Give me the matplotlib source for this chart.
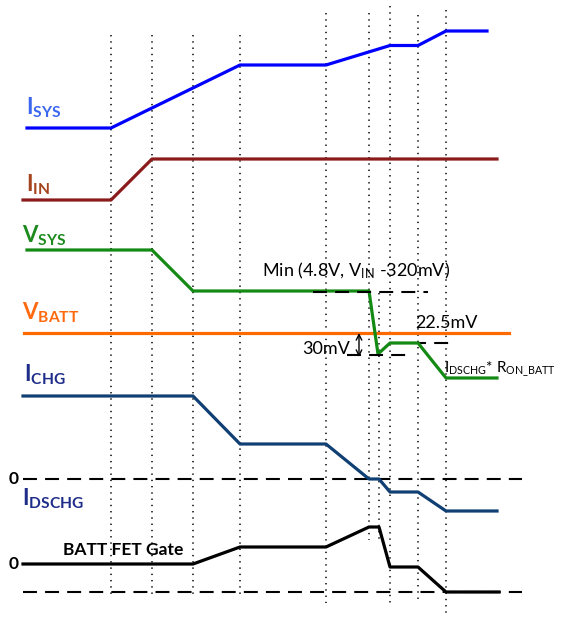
"""
Power-path timing diagram: ISYS / IIN / VSYS / VBATT / ICHG / IDSCHG / BATT FET gate.
Drawn on a pixel-like canvas (x = time, y = level on screen, downwards).
"""

import matplotlib

matplotlib.use("Agg")
import matplotlib.pyplot as plt

plt.rcParams.update({
    "font.family": ["Lato", "DejaVu Sans"],
    "mathtext.fontset": "custom",
    "mathtext.rm": "Lato",
    "mathtext.it": "Lato:italic",
    "mathtext.bf": "Lato:bold",
})

# event times (vertical dotted markers) and their extents
event_t = [111, 152, 193, 240, 326, 369, 379, 390, 418, 446]
event_top = [35, 35, 35, 35, 13, 13, 293, 6, 15, 10]
event_bottom = [597, 597, 597, 597, 603, 540, 540, 603, 600, 617]

# waveforms: breakpoints in time and level
isys_t = [27, 111, 240, 326, 390, 418, 446, 487]
isys_v = [128, 128, 65, 65, 45.5, 45.5, 31, 31]

iin_t = [23, 111, 152, 497]
iin_v = [200, 200, 159, 159]

vsys_t = [27, 152, 193, 369, 378, 390, 418, 446, 497]
vsys_v = [250, 250, 291, 291, 354, 343, 343, 378, 378]

vbatt_t = [24, 509]
vbatt_v = [333, 333]

ichg_t = [23, 193, 240, 326, 369, 379, 390, 418, 446, 497]
ichg_v = [396, 396, 444, 444, 479, 479, 492, 492, 511, 511]

gate_t = [23, 193, 240, 326, 369, 379, 390, 418, 446, 499]
gate_v = [564, 564, 547, 547, 527, 527, 567, 567, 592, 592]

zero_levels = [479, 592]
zero_span = [23, 522]

fig = plt.figure(figsize=(5.61, 6.18), dpi=100)
ax = fig.add_axes([0, 0, 1, 1])
ax.set_xlim(0, 561)
ax.set_ylim(618, 0)
ax.axis("off")

# dotted event markers
for t, top, bot in zip(event_t, event_top, event_bottom):
    ax.plot([t, t], [top, bot], color="black", lw=1.1,
            linestyle=(0, (0.9, 3.2)), zorder=1)

# zero reference lines
dash = (0, (6.7, 3.9))
for y in zero_levels:
    ax.plot(zero_span, [y, y], color="black", lw=1.5, linestyle=dash, zorder=2)

lw = 2.3
ax.plot(isys_t, isys_v, color="#0000ff", lw=lw, zorder=3)
ax.plot(iin_t, iin_v, color="#8b1a1a", lw=lw, zorder=3)
ax.plot(vbatt_t, vbatt_v, color="#ff6a00", lw=lw, zorder=3)
ax.plot(vsys_t, vsys_v, color="#138a13", lw=lw, zorder=4)
ax.plot(ichg_t, ichg_v, color="#0f3f73", lw=lw, zorder=3)
ax.plot(gate_t, gate_v, color="black", lw=lw, zorder=3)

# VSYS annotation guides
ax.plot([313, 428], [292, 292], color="black", lw=1.5, linestyle=dash, zorder=5)
ax.plot([347, 408], [355, 355], color="black", lw=1.5, linestyle=dash, zorder=5)
ax.plot([390, 453], [343, 343], color="black", lw=1.5, linestyle=dash, zorder=2)
ax.annotate("", xy=(359, 333), xytext=(359, 357),
            arrowprops=dict(arrowstyle="<->", color="black", lw=1.0,
                            shrinkA=0, shrinkB=0))

# signal labels
lab = dict(fontsize=16, ha="left", va="baseline")
ax.text(26, 115, r"$\mathbf{I}_{\mathbf{SYS}}$", color="#3a66f0", **lab)
ax.text(26, 192, r"$\mathbf{I}_{\mathbf{IN}}$", color="#a5441c", **lab)
ax.text(22, 243, r"$\mathbf{V}_{\mathbf{SYS}}$", color="#1d8a1d", **lab)
ax.text(22, 320, r"$\mathbf{V}_{\mathbf{BATT}}$", color="#ff6a10", **lab)
ax.text(24, 382, r"$\mathbf{I}_{\mathbf{CHG}}$", color="#1f2d8a", **lab)
ax.text(22, 506, r"$\mathbf{I}_{\mathbf{DSCHG}}$", color="#1f2d8a", **lab)
ax.text(63, 555, "BATT FET Gate", fontsize=12.5, fontweight="bold",
        ha="left", va="baseline")
for y in zero_levels[:1] + [564]:
    ax.text(14, y, "0", fontsize=12.5, fontweight="bold", ha="center", va="center")

# value annotations
ann = dict(fontsize=13, color="black")
ax.text(262, 276, r"Min (4.8V, $\mathregular{V_{IN}}$ -320mV)", ha="left",
        va="baseline", **ann)
ax.text(415, 328, "22.5mV", ha="left", va="baseline", **ann)
ax.text(350, 354, "30mV", ha="right", va="baseline", **ann)
ax.text(444, 373, r"$\mathregular{I_{DSCHG}}$* $\mathregular{R_{ON\_BATT}}$",
        ha="left", va="baseline", fontsize=11, color="black")

fig.savefig("out.png", dpi=100)
